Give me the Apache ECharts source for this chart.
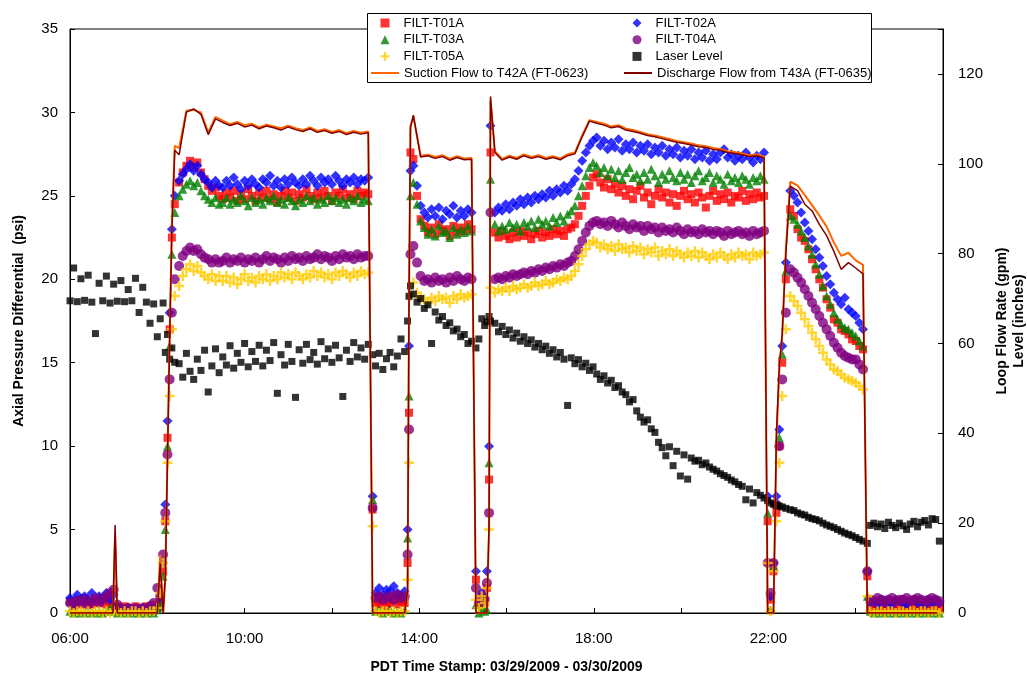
<!DOCTYPE html>
<html lang="en">
<head>
    <meta charset="utf-8">
    <title>Filter Axial Pressure Differential</title>
    <style>
        html, body { margin: 0; padding: 0; background: #fff; }
        #main { width: 1027px; height: 673px; }
    </style>
</head>
<body>
<div id="main"></div>

<script src="https://cdn.jsdelivr.net/npm/echarts@6/dist/echarts.min.js"></script>
<script type="text/javascript">
    // time stamps for filter dP and laser level, minutes after midnight 03/29 (past 1440 = 03/30)
    var minutes = [
        360, 365, 370, 375, 380, 385, 390, 395, 400, 405, 410, 415, 420, 425, 430, 435, 440, 445, 450, 455, 460, 465, 470, 475, 480,
        484, 488, 491, 494, 497, 500, 504,
        510, 515, 520, 525, 530, 535, 540, 545, 550, 555, 560, 565, 570, 575, 580, 585, 590, 595, 600, 605, 610, 615, 620, 625, 630, 635,
        640, 645, 650, 655, 660, 665, 670, 675, 680, 685, 690, 695, 700, 705, 710, 715, 720, 725, 730, 735, 740, 745, 750, 755, 760, 765, 770,
        776,
        780, 785, 790, 795, 800, 805, 810, 815, 820,
        824, 826, 828,
        832, 837, 842, 847, 852, 857, 862, 867, 872, 877, 882, 887, 892, 897, 902, 907, 912,
        918,
        922, 926, 930, 933,
        936, 938,
        944, 949, 954, 959, 964, 969, 974, 979, 984, 989, 994, 999, 1004, 1009, 1014, 1019, 1024, 1029, 1034, 1039, 1044, 1049,
        1054, 1059, 1064, 1069, 1074, 1079,
        1084, 1089, 1094, 1099, 1104, 1109, 1114, 1119, 1124, 1129, 1134, 1139, 1144, 1149, 1154, 1159, 1164, 1169, 1174, 1179,
        1184, 1189, 1194, 1199, 1204, 1209, 1214, 1219, 1224, 1229, 1234, 1239, 1244, 1249, 1254, 1259, 1264, 1269, 1274, 1279,
        1284, 1289, 1294, 1299, 1304, 1309, 1314,
        1319,
        1323,
        1327, 1331, 1335, 1339, 1344,
        1350, 1355, 1360, 1365, 1370, 1375, 1380, 1385, 1390, 1395, 1400, 1405, 1410, 1415, 1420, 1425, 1430, 1435, 1440, 1445, 1450,
        1456,
        1460, 1465, 1470, 1475, 1480, 1485, 1490, 1495, 1500, 1505, 1510, 1515, 1520, 1525, 1530, 1535, 1540, 1545, 1550, 1555
    ];

    // filter dP (psi)
    var t01a = [
        0.7, 0.4, 0.8, 0.5, 0.9, 0.6, 0.5, 0.8, 0.6, 0.9, 0.5, 0.7, 0.4, 0.3, 0.2, 0.4, 0.3, 0.2, 0.4, 0.3, 0.2, 0.4, 0.3, 0.5, 0.3,
        0.6, 2.5, 5.5, 10.5, 17.0, 22.5, 24.5,
        25.8, 26.4, 26.8, 27.1, 26.7, 27.0, 26.4, 26.0, 25.6, 25.3, 25.5, 25.0,
        24.8, 25.2, 24.9, 25.3, 24.7, 25.1, 24.8, 25.4, 25.0, 24.7, 25.2, 24.9, 25.3, 24.8, 25.1, 24.6, 25.0, 25.3, 24.9, 25.2,
        24.7, 25.1, 24.9, 25.4, 25.0, 24.8, 25.2, 24.9, 25.3, 25.0, 24.7, 25.2, 25.0, 25.4, 24.9, 25.1, 24.8, 25.3, 25.0, 25.2, 25.1,
        6.2,
        0.6, 0.5, 0.7, 0.4, 0.6, 0.8, 0.5, 0.7, 0.6,
        3.0, 12.0, 27.6,
        27.2, 25.0, 23.6, 23.2, 22.8, 23.1, 22.7, 23.3, 22.9, 23.0, 22.6, 23.2, 22.8, 23.1, 22.9, 23.3, 23.0,
        2.0,
        0.5, 0.8, 0.6, 1.5,
        8.0, 27.6,
        22.8, 22.5, 22.9, 22.6, 22.4, 22.8, 22.5, 22.9, 22.6, 22.8, 22.4, 22.7, 22.9, 22.5, 22.8, 22.6, 23.0, 22.7, 22.9, 22.6, 23.0, 23.1,
        23.3, 23.8, 24.4, 25.0, 25.6, 26.1,
        26.3, 25.8, 25.5, 26.0, 25.4, 25.7, 25.2, 25.6, 25.0, 25.4, 24.8, 25.3, 25.6, 24.9, 25.2, 24.5, 25.0, 25.4, 24.9, 25.2,
        24.6, 25.1, 24.4, 25.0, 25.3, 24.8, 25.1, 24.6, 25.2, 24.9, 24.3, 25.0, 25.3, 24.7, 25.1, 24.8, 25.2, 24.6, 25.0, 24.9,
        25.3, 24.7, 25.1, 24.8, 25.2, 24.9, 25.0,
        5.5,
        0.8,
        2.5, 6.0, 10.0, 15.0, 20.0,
        24.2, 23.8, 23.0, 22.5, 22.3, 21.8, 21.2, 20.6, 20.0, 19.5, 18.8, 18.3, 17.6, 17.4, 17.0, 16.9, 16.7, 16.4, 16.3, 16.0, 15.8,
        2.2,
        0.3, 0.2, 0.4, 0.3, 0.2, 0.4, 0.3, 0.5, 0.2, 0.3, 0.4, 0.2, 0.3, 0.4, 0.3, 0.2, 0.4, 0.3, 0.2, 0.3
    ];
    var t02a = [
        0.9, 0.6, 1.1, 0.7, 1.0, 0.8, 1.2, 0.7, 1.0, 0.9, 1.2, 0.8, 1.1, 0.4, 0.2, 0.1, 0.3, 0.1, 0.2, 0.1, 0.3, 0.1, 0.2, 0.3, 0.2,
        0.8, 3.0, 6.5, 11.5, 18.0, 23.0, 25.0,
        25.9, 26.3, 26.6, 26.9, 26.5, 26.8, 26.3, 26.0, 25.8, 25.5, 25.9, 25.6,
        25.5, 25.9, 25.6, 26.1, 25.7, 25.4, 25.9, 25.6, 26.0, 25.7, 25.5, 26.0, 25.8, 26.2, 25.6, 25.9, 25.5, 26.0, 25.7, 26.1,
        25.8, 25.6, 26.0, 25.7, 26.2, 25.9, 25.6, 26.1, 25.8, 26.0, 25.7, 26.2, 25.9, 25.6, 26.0, 25.8, 26.1, 25.7, 26.0, 25.9, 26.1,
        7.0,
        1.2, 1.5, 1.1, 1.4, 1.3, 1.6, 1.2, 1.0, 1.3,
        5.0, 16.0, 26.5,
        26.8, 25.6, 24.4, 24.0, 23.7, 24.2, 23.8, 24.3, 23.6, 24.1, 23.9, 24.4, 23.7, 24.1, 23.8, 24.2, 24.0,
        2.5,
        0.6, 1.2, 0.9, 2.5,
        10.0, 29.2,
        24.0, 24.3, 24.1, 24.5, 24.2, 24.6, 24.4, 24.8, 24.5, 24.9, 24.6, 25.0, 24.8, 25.1, 24.9, 25.3, 25.0, 25.4, 25.2, 25.6, 25.3, 25.7,
        26.0, 26.5, 27.1, 27.6, 28.0, 28.3,
        28.5, 28.0, 28.3, 27.8, 28.2, 27.9, 28.4, 27.7, 28.1, 27.8, 28.2, 27.6, 28.0, 27.7, 28.1, 27.5, 27.9, 27.6, 28.0, 27.4,
        27.8, 27.5, 27.9, 27.3, 27.7, 27.4, 27.8, 27.2, 27.6, 27.3, 27.7, 27.1, 27.5, 27.2, 27.6, 27.8, 27.3, 27.5, 27.1, 27.4,
        27.2, 27.6, 27.3, 27.0, 27.4, 27.2, 27.6,
        7.0,
        1.0,
        3.0, 7.0, 11.0, 16.0, 21.0,
        25.3, 25.0, 24.6, 24.0, 23.4, 22.9, 22.4, 21.8, 21.3, 20.8, 20.2, 19.7, 19.2, 18.8, 18.5, 18.9, 18.2, 18.0, 17.8, 17.4, 17.0,
        2.5,
        0.6, 0.7, 0.5, 0.8, 0.6, 0.7, 0.5, 0.8, 0.7, 0.6, 0.5, 0.7, 0.8, 0.6, 0.7, 0.5, 0.8, 0.6, 0.7, 0.6
    ];
    var t03a = [
        0.1, 0.0, 0.1, 0.0, 0.1, 0.0, 0.1, 0.0, 0.1, 0.0, 0.1, 0.3, 0.1, 0.0, 0.1, 0.0, 0.1, 0.0, 0.1, 0.0, 0.1, 0.0, 0.1, 0.0, 0.2,
        0.4, 2.2, 5.0, 10.0, 16.0, 21.5, 24.0,
        25.0, 25.4, 25.7, 25.9, 25.6, 25.8, 25.3, 25.0, 24.8, 24.6, 24.9, 24.5,
        24.6, 24.9, 24.5, 24.8, 24.6, 25.0, 24.7, 24.4, 24.9, 24.6, 24.8, 24.5, 24.9, 24.7, 25.0, 24.6, 24.8, 24.5, 24.9, 24.7,
        24.4, 24.8, 24.6, 25.0, 24.7, 24.9, 24.5, 24.8, 24.6, 25.0, 24.7, 24.9, 24.6, 24.8, 24.5, 24.9, 24.7, 25.0, 24.6, 24.8, 24.7,
        6.8,
        0.1, 0.2, 0.0, 0.1, 0.2, 0.0, 0.1, 0.0, 0.2,
        4.5, 13.0, 25.0,
        25.8, 24.5, 23.5, 23.1, 22.7, 23.0, 22.6, 23.2, 22.8, 22.9, 22.5, 23.1, 22.7, 23.0, 22.8, 23.2, 22.9,
        0.5,
        0.0, 0.3, 0.1, 0.2,
        9.0, 26.0,
        23.3, 22.9, 23.2, 23.0, 23.4, 23.1, 23.3, 22.9, 23.4, 23.2, 23.5, 23.1, 23.6, 23.3, 23.5, 23.2, 23.7, 23.4, 23.8, 23.5, 23.9, 24.1,
        24.4, 25.0, 25.6, 26.2, 26.7, 27.0,
        26.8, 26.4, 26.7, 26.2, 26.6, 26.1, 26.5, 26.0, 26.4, 26.7, 26.1, 26.3, 25.9, 26.4, 26.0, 26.6, 26.2, 25.8, 26.3, 26.0,
        26.5, 26.1, 25.9, 26.4, 26.0, 26.3, 25.8, 26.2, 26.5, 25.9, 26.1, 26.4, 25.8, 26.2, 26.0, 25.7, 26.3, 25.9, 26.1, 25.8,
        26.2, 26.0, 25.7, 26.1, 25.9, 26.2, 26.0,
        6.0,
        0.2,
        2.8, 6.5, 10.5, 15.5, 20.5,
        23.8, 23.6, 23.3, 22.9, 22.5, 22.0, 21.5, 20.9, 20.3, 19.6, 19.0, 18.5, 18.0, 17.6, 17.3, 17.1, 17.0, 16.8, 16.6, 16.3, 16.0,
        1.0,
        0.1, 0.0, 0.1, 0.0, 0.1, 0.0, 0.1, 0.0, 0.1, 0.0, 0.1, 0.0, 0.1, 0.0, 0.1, 0.0, 0.1, 0.0, 0.1, 0.0
    ];
    var t04a = [
        0.6, 0.5, 0.7, 0.6, 0.8, 0.5, 0.7, 0.9, 0.6, 0.8, 1.0, 1.2, 1.4, 0.5, 0.3, 0.2, 0.3, 0.2, 0.3, 0.2, 0.3, 0.2, 0.4, 0.6, 1.5,
        1.0, 3.5, 6.0, 9.5, 14.0, 18.0, 20.0,
        20.8, 21.4, 21.7, 21.9, 21.7, 21.8, 21.5, 21.3, 21.2, 21.0, 21.2, 21.0,
        21.1, 21.3, 21.0, 21.2, 21.1, 21.3, 21.0, 21.2, 21.1, 21.3, 21.0, 21.2, 21.4, 21.1, 21.3, 21.2, 21.0, 21.3, 21.1, 21.4,
        21.2, 21.3, 21.1, 21.4, 21.2, 21.3, 21.5, 21.2, 21.4, 21.3, 21.1, 21.4, 21.2, 21.5, 21.3, 21.4, 21.2, 21.5, 21.3, 21.4, 21.4,
        6.3,
        0.9, 1.0, 0.8, 0.9, 1.0, 0.8, 1.1, 0.9, 1.0,
        3.5, 11.0, 21.5,
        22.0, 21.0, 20.2, 19.9, 20.0, 19.8, 20.1, 19.9, 20.0, 19.8, 20.1, 19.9, 20.2, 20.0, 19.9, 20.1, 20.0,
        1.5,
        0.6, 1.0, 0.8, 1.8,
        6.0, 24.0,
        20.0, 20.1, 20.0, 20.2, 20.1, 20.3, 20.2, 20.3, 20.4, 20.3, 20.5, 20.4, 20.6, 20.5, 20.7, 20.6, 20.8, 20.7, 20.9, 20.8, 21.0, 21.1,
        21.4, 21.8, 22.3, 22.8, 23.2, 23.4,
        23.5, 23.3, 23.4, 23.2, 23.5, 23.3, 23.1, 23.4, 23.2, 23.0, 23.3, 23.1, 23.2, 22.9, 23.2, 23.0, 23.1, 22.8, 23.1, 22.9,
        23.0, 22.8, 23.1, 22.9, 22.7, 23.0, 22.8, 22.9, 22.7, 23.0, 22.8, 22.9, 22.7, 22.9, 22.8, 22.6, 22.9, 22.7, 22.8, 22.9,
        22.7, 22.8, 22.6, 22.9, 22.7, 22.8, 22.9,
        3.0,
        1.2,
        3.0, 6.5, 10.0, 14.0, 18.0,
        20.6, 20.4, 20.1, 19.8, 19.4, 19.0, 18.6, 18.2, 17.8, 17.4, 17.0, 16.6, 16.2, 15.9, 15.6, 15.4, 15.3, 15.2, 15.2, 14.9, 14.6,
        2.5,
        0.8, 0.7, 0.9, 0.8, 0.7, 0.8, 0.9, 0.7, 0.8, 0.8, 0.9, 0.7, 0.8, 0.9, 0.8, 0.7, 0.8, 0.9, 0.8, 0.7
    ];
    var t05a = [
        0.1, 0.0, 0.1, 0.1, 0.0, 0.1, 0.0, 0.1, 0.1, 0.0, 0.1, 0.0, 0.1, 0.1, 0.0, 0.1, 0.0, 0.1, 0.1, 0.0, 0.1, 0.0, 0.1, 0.1, 0.3,
        1.2, 3.0, 5.5, 9.0, 13.0, 17.0, 19.0,
        19.6, 20.2, 20.6, 20.9, 20.5, 20.8, 20.4, 20.2, 20.0, 20.3, 19.9, 20.2,
        19.9, 20.2, 19.8, 20.1, 19.7, 20.0, 20.3, 19.9, 20.1, 19.8, 20.2, 20.0, 20.3, 19.9, 20.2, 20.0, 20.4, 20.1, 20.3, 20.0,
        20.4, 20.2, 20.0, 20.3, 20.1, 20.5, 20.2, 20.4, 20.1, 20.3, 20.0, 20.4, 20.2, 20.5, 20.3, 20.1, 20.4, 20.2, 20.5, 20.3, 20.4,
        5.2,
        0.1, 0.0, 0.1, 0.1, 0.0, 0.1, 0.0, 0.1, 0.1,
        2.0, 9.0, 19.0,
        19.8, 19.2, 18.9, 18.8, 18.6, 18.9, 18.7, 19.0, 18.8, 18.9, 18.6, 19.0, 18.8, 19.1, 18.9, 19.0, 19.1,
        0.8,
        0.3, 1.0, 0.6, 1.5,
        5.0, 19.5,
        19.2, 19.4, 19.3, 19.5, 19.3, 19.6, 19.4, 19.5, 19.7, 19.5, 19.6, 19.8, 19.6, 19.7, 19.9, 19.7, 19.8, 20.0, 19.9, 20.1, 20.0, 20.2,
        20.5, 20.9, 21.4, 21.8, 22.1, 22.3,
        22.2, 21.9, 22.1, 21.8, 22.0, 21.7, 22.1, 21.8, 21.9, 21.6, 22.0, 21.7, 21.9, 21.5, 21.8, 21.6, 21.9, 21.4, 21.7, 21.5,
        21.8, 21.4, 21.7, 21.5, 21.3, 21.6, 21.4, 21.7, 21.3, 21.6, 21.4, 21.2, 21.5, 21.3, 21.6, 21.4, 21.2, 21.5, 21.3, 21.6,
        21.4, 21.5, 21.2, 21.6, 21.4, 21.5, 21.6,
        3.0,
        0.1,
        2.5, 5.5, 9.0, 13.0, 17.0,
        19.0, 18.7, 18.4, 18.0, 17.6, 17.2, 16.8, 16.4, 16.0, 15.6, 15.2, 14.9, 14.6, 14.5, 14.3, 14.1, 14.0, 13.9, 13.8, 13.6, 13.4,
        1.0,
        0.1, 0.0, 0.1, 0.1, 0.0, 0.1, 0.1, 0.0, 0.1, 0.1, 0.0, 0.1, 0.1, 0.0, 0.1, 0.1, 0.0, 0.1, 0.1, 0.0
    ];

    // laser level (inches), right axis
    var laser = [
        69.5, 76.8, 69.3, 74.4, 69.6, 75.2, 69.2, 62.2, 73.4, 69.5, 75.0, 69.0, 73.2, 69.4, 74.0, 69.3, 72.0, 69.5, 74.5, 66.9, 72.5, 69.2, 64.5, 68.8, 61.5,
        65.5, 69.0, 58.0, 62.0, 56.5, 59.0, 55.8,
        55.5, 52.5, 57.8, 53.8, 52.0, 56.5, 54.0, 58.5, 49.2, 55.0, 58.8, 53.5, 57.0, 55.2, 59.5, 54.5, 57.8, 55.8, 60.0, 54.8,
        58.2, 56.0, 59.6, 55.0, 58.5, 56.2, 60.2, 48.9, 57.5, 55.2, 59.8, 56.0, 48.0, 58.6, 55.6, 59.8, 56.4, 58.0, 55.4, 60.4,
        56.6, 58.8, 55.8, 59.6, 56.8, 48.2, 58.5, 56.0, 60.2, 57.0, 59.0, 56.5, 59.8,
        57.5,
        55.0, 57.8, 54.2, 56.6, 58.0, 54.8, 57.2, 61.0, 58.2,
        65.0, 70.5, 72.8,
        71.0, 69.2, 70.0, 67.8, 68.6, 60.0, 67.0, 65.2, 66.0, 64.0, 64.6, 62.8, 63.2, 61.5, 62.0, 60.0, 60.5,
        59.0,
        61.0, 65.5, 64.0, 64.8,
        66.0, 65.0,
        64.5, 62.6, 63.8, 62.0, 63.0, 61.2, 62.3, 60.5, 61.5, 60.0, 60.8, 59.2, 60.0, 58.6, 59.4, 57.8, 58.6, 57.0, 58.0, 56.5, 46.2, 56.8,
        55.5, 56.4, 54.8, 55.6, 54.0, 54.8,
        53.2, 52.0, 52.8, 51.2, 51.8, 50.2, 50.6, 49.2, 48.6, 47.0, 47.5, 45.0, 43.6, 42.5, 43.0, 41.0, 40.2, 38.0, 36.8, 35.0,
        37.0, 32.8, 36.0, 30.5, 35.2, 29.8, 34.5, 33.8, 34.0, 33.0, 33.4, 32.5, 32.0, 31.6, 31.0, 30.6, 30.2, 29.6, 29.2, 28.6,
        28.2, 25.2, 27.6, 24.5, 26.8, 26.2, 25.6,
        25.0,
        24.5,
        24.2, 24.0, 23.8, 23.6, 23.3,
        23.0, 22.8, 22.3, 22.0, 21.8, 21.3, 21.0, 20.8, 20.5, 20.0, 19.6, 19.3, 19.0, 18.6, 18.2, 17.8, 17.5, 17.2, 16.8, 16.4, 16.0,
        15.5,
        19.5, 20.0, 19.2, 19.8, 18.8, 20.2, 19.5, 19.0, 20.0, 19.4, 18.6, 19.8, 20.4, 19.2, 20.2, 20.6, 19.6, 21.0, 20.8, 16.0
    ];

    // time stamps for the loop flows
    var flowMinutes = [
        360, 370, 380, 390, 400, 410, 419, 422, 425, 430, 440, 450, 460, 470, 480,
        484, 488, 491, 494, 497, 500, 504,
        510, 520, 530, 540, 550, 560, 570, 580, 590, 600, 610, 620, 630, 640, 650, 660, 670, 680, 690, 700, 710, 720, 730, 740, 750, 760, 770,
        776,
        782, 792, 802, 812, 820,
        824, 826, 828,
        832, 842, 852, 862, 872, 882, 892, 902, 912,
        918,
        922, 928, 933,
        936, 938,
        944, 954, 964, 974, 984, 994, 1004, 1014, 1024, 1034, 1044, 1054, 1064, 1074, 1084, 1094, 1104, 1114, 1124, 1134, 1144,
        1154, 1164, 1174, 1184, 1194, 1204, 1214, 1224, 1234, 1244, 1254, 1264, 1274, 1284, 1294, 1304, 1314,
        1319,
        1323,
        1327, 1331, 1335, 1339, 1344,
        1350, 1360, 1370, 1380, 1390, 1400, 1410, 1420, 1430, 1440, 1450,
        1456,
        1462, 1472, 1482, 1492, 1502, 1512, 1522, 1532, 1542, 1552
    ];

    // loop flows (gpm), right axis
    var suction = [
        0, 0, 0, 0, 0, 0, 0, 17.0, 0, 0, 0, 0, 0, 0, 0,
        13.0, 0, 8.0, 35.0, 62.0, 86.0, 104.0,
        103.5, 111.8, 112.0, 111.4, 107.0, 110.4, 109.6, 108.8, 109.3, 108.6, 108.9, 108.1, 108.7, 108.3, 107.9, 108.5, 107.9, 107.5,
        108.1, 107.3, 107.7, 107.1, 107.5, 106.8, 107.3, 106.9, 107.2,
        0,
        0, 0, 0, 0, 0,
        4.0, 68.0, 108.5,
        110.5, 101.8, 102.0, 101.5, 101.9, 101.1, 101.7, 101.2, 101.3,
        0,
        0, 0, 0,
        18.0, 114.0,
        102.8, 101.1, 101.8, 101.3, 102.1, 101.5, 101.9, 101.3, 101.7, 101.2, 102.1, 102.5, 106.3, 109.7, 109.3, 108.9, 108.3, 108.6, 107.8, 107.5, 107.1,
        106.6, 106.3, 105.9, 105.5, 105.1, 104.8, 104.5, 104.1, 103.9, 103.5, 103.3, 102.8, 102.6, 102.3, 101.9, 102.1, 101.6,
        0,
        0,
        0, 38.0, 54.0, 62.0, 81.0,
        96.0, 95.2, 93.0, 90.8, 88.5, 86.0, 82.5, 79.5, 80.2, 78.5, 77.5,
        0,
        0, 0, 0, 0, 0, 0, 0, 0, 0, 0
    ];
    var discharge = [
        0, 0, 0, 0, 0, 0, 0, 19.6, 0, 0, 0, 0, 0, 0, 0,
        11.0, 0, 8.0, 34.0, 61.0, 85.0, 103.0,
        102.0, 111.5, 112.2, 111.0, 106.5, 110.0, 109.2, 108.5, 109.0, 108.2, 108.6, 107.8, 108.4, 108.0, 107.5, 108.2, 107.6, 107.2,
        107.8, 107.0, 107.4, 106.8, 107.2, 106.5, 107.0, 106.6, 106.9,
        0,
        0, 0, 0, 0, 0,
        5.0, 70.0, 108.0,
        110.8, 101.5, 101.8, 101.2, 101.6, 100.8, 101.4, 100.9, 101.0,
        0,
        0, 0, 0,
        20.0, 115.0,
        102.5, 100.8, 101.5, 101.0, 101.8, 101.2, 101.6, 101.0, 101.4, 100.9, 101.8, 102.2, 106.0, 109.5, 109.0, 108.6, 108.0, 108.3, 107.5, 107.2, 106.8,
        106.3, 106.0, 105.6, 105.2, 104.8, 104.5, 104.2, 103.8, 103.6, 103.2, 103.0, 102.5, 102.3, 102.0, 101.6, 101.8, 101.3,
        0,
        0,
        0, 40.0, 55.0, 62.0, 80.0,
        95.0, 94.0, 91.0, 89.5, 86.5, 84.0, 80.5, 76.5, 78.0, 76.8, 75.5,
        0,
        0, 0, 0, 0, 0, 0, 0, 0, 0, 0
    ];

    // x positions that carry a time label
    var labelledMinutes = [360, 600, 840, 1080, 1320];

    function pairs(times, values) {
        return times.map(function (m, i) {
            return [m, values[i]];
        });
    }

    var font = "'Liberation Sans', Arial, sans-serif";
    var plus = 'path://M3,0H5V3H8V5H5V8H3V5H0V3H3Z';

    var legendText = {fontFamily: font, fontSize: 13, color: '#000', lineHeight: 14};
    var markerText = {
        fontFamily: font, fontSize: 13, color: '#000', lineHeight: 14,
        rich: {t: {fontFamily: font, fontSize: 13, color: '#000', lineHeight: 14, padding: [0, 0, 0, 9]}}
    };
    function markerLabel(name) {
        return '{t|' + name + '}';
    }

    var myChart = echarts.init(document.getElementById('main'), null, {renderer: 'canvas'});

    myChart.setOption({
        animation: false,
        backgroundColor: '#ffffff',
        textStyle: {fontFamily: font, color: '#000'},
        grid: {
            left: 70, right: 84, top: 29, bottom: 60,
            outerBoundsMode: 'none',
            show: true, borderColor: '#000', borderWidth: 1, backgroundColor: 'transparent'
        },
        graphic: [{
            type: 'rect',
            z: 50,
            shape: {x: 367.5, y: 13.5, width: 504, height: 69},
            style: {fill: '#ffffff', stroke: '#000', lineWidth: 1}
        }],
        legend: [{
            z: 100, orient: 'vertical', left: 380.5, top: 16, padding: 0,
            itemWidth: 9, itemHeight: 9, itemGap: 2.7, selectedMode: false,
            formatter: markerLabel, textStyle: markerText,
            data: ['FILT-T01A', 'FILT-T03A', 'FILT-T05A']
        }, {
            z: 100, orient: 'vertical', left: 370, top: 66, padding: 0,
            itemWidth: 28, itemHeight: 2, selectedMode: false,
            textStyle: legendText,
            data: ['Suction Flow to T42A (FT-0623)']
        }, {
            z: 100, orient: 'vertical', left: 632.5, top: 16, padding: 0,
            itemWidth: 9, itemHeight: 9, itemGap: 2.7, selectedMode: false,
            formatter: markerLabel, textStyle: markerText,
            data: ['FILT-T02A', 'FILT-T04A', 'Laser Level']
        }, {
            z: 100, orient: 'vertical', left: 623, top: 66, padding: 0,
            itemWidth: 28, itemHeight: 2, selectedMode: false,
            textStyle: legendText,
            data: ['Discharge Flow from T43A (FT-0635)']
        }],
        xAxis: {
            type: 'value',
            min: 360, max: 1560, interval: 120,
            name: 'PDT Time Stamp: 03/29/2009 - 03/30/2009',
            nameLocation: 'middle', nameGap: 47,
            nameTextStyle: {fontFamily: font, fontWeight: 'bold', fontSize: 14, color: '#000'},
            splitLine: {show: false},
            axisLine: {show: true, lineStyle: {color: '#000', width: 1}},
            axisTick: {show: true, inside: true, length: 5, lineStyle: {color: '#000'}},
            axisLabel: {
                fontFamily: font, fontSize: 15, color: '#000', margin: 18,
                formatter: function (v) {
                    if (labelledMinutes.indexOf(v) < 0) return '';
                    var h = Math.floor(v / 60) % 24;
                    return (h < 10 ? '0' : '') + h + ':00';
                }
            }
        },
        yAxis: [{
            type: 'value',
            min: 0, max: 35, interval: 5,
            name: 'Axial Pressure Differential  (psi)',
            nameLocation: 'middle', nameGap: 44, nameRotate: 90,
            nameTextStyle: {fontFamily: font, fontWeight: 'bold', fontSize: 14, color: '#000'},
            splitLine: {show: false},
            axisLine: {show: true, lineStyle: {color: '#000', width: 1}},
            axisTick: {show: true, inside: true, length: 5, lineStyle: {color: '#000'}},
            axisLabel: {fontFamily: font, fontSize: 15, color: '#000', margin: 12}
        }, {
            type: 'value',
            position: 'right',
            min: 0, max: 130, interval: 20,
            name: 'Loop Flow Rate (gpm)\nLevel (inches)',
            nameLocation: 'middle', nameGap: 49, nameRotate: 90,
            nameTextStyle: {fontFamily: font, fontWeight: 'bold', fontSize: 14, color: '#000', lineHeight: 17},
            splitLine: {show: false},
            axisLine: {show: true, lineStyle: {color: '#000', width: 1}},
            axisTick: {show: true, inside: true, length: 5, lineStyle: {color: '#000'}},
            axisLabel: {
                fontFamily: font, fontSize: 15, color: '#000', margin: 15,
                formatter: function (v) {
                    return (v % 20 === 0 && v <= 120) ? v : '';
                }
            }
        }],
        series: [
            {
                name: 'FILT-T01A', type: 'scatter', yAxisIndex: 0,
                symbol: 'rect', symbolSize: 8,
                itemStyle: {color: '#FF0000'},
                data: pairs(minutes, t01a)
            },
            {
                name: 'FILT-T02A', type: 'scatter', yAxisIndex: 0,
                symbol: 'diamond', symbolSize: 10,
                itemStyle: {color: '#0000FF'},
                data: pairs(minutes, t02a)
            },
            {
                name: 'FILT-T03A', type: 'scatter', yAxisIndex: 0,
                symbol: 'triangle', symbolSize: 9,
                itemStyle: {color: '#008000'},
                data: pairs(minutes, t03a)
            },
            {
                name: 'FILT-T04A', type: 'scatter', yAxisIndex: 0,
                symbol: 'circle', symbolSize: 10,
                itemStyle: {color: '#800080'},
                data: pairs(minutes, t04a)
            },
            {
                name: 'FILT-T05A', type: 'scatter', yAxisIndex: 0,
                symbol: plus, symbolSize: 10,
                itemStyle: {color: '#FFCC00'},
                data: pairs(minutes, t05a)
            },
            {
                name: 'Laser Level', type: 'scatter', yAxisIndex: 1,
                symbol: 'rect', symbolSize: 7,
                itemStyle: {color: '#000000'},
                data: pairs(minutes, laser)
            },
            {
                name: 'Suction Flow to T42A (FT-0623)', type: 'line', yAxisIndex: 1,
                symbol: 'none',
                lineStyle: {color: '#FF6600', width: 2},
                itemStyle: {color: '#FF6600'},
                data: pairs(flowMinutes, suction)
            },
            {
                name: 'Discharge Flow from T43A (FT-0635)', type: 'line', yAxisIndex: 1,
                symbol: 'none',
                lineStyle: {color: '#800000', width: 1.5},
                itemStyle: {color: '#800000'},
                data: pairs(flowMinutes, discharge)
            }
        ]
    });
</script>
</body>
</html>
